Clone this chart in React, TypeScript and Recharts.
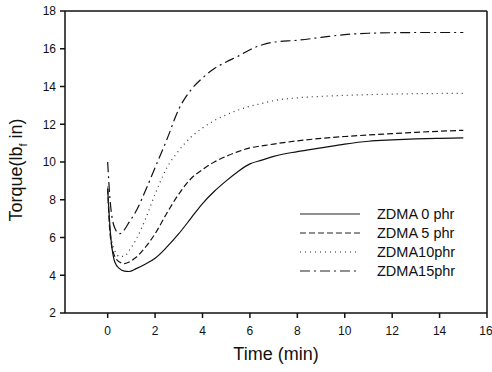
import React from 'react';
import { LineChart, Line, XAxis, YAxis, ReferenceLine } from 'recharts';

const times = [0, 0.1, 0.3, 0.5, 0.7, 0.9, 1.2, 1.6, 2, 2.5, 3, 3.5, 4, 4.5, 5, 5.5, 6, 6.5, 7, 8, 9, 10, 11, 12, 13, 14, 15];
const zdma0 = [8.6, 6.5, 4.7, 4.35, 4.22, 4.2, 4.35, 4.6, 4.9, 5.5, 6.2, 7.0, 7.8, 8.45, 9.0, 9.5, 9.9, 10.1, 10.3, 10.55, 10.75, 10.95, 11.1, 11.17, 11.22, 11.25, 11.28];
const zdma5 = [8.6, 6.2, 5.0, 4.7, 4.62, 4.7, 4.95, 5.5, 6.2, 7.3, 8.3, 9.1, 9.6, 10.0, 10.3, 10.55, 10.75, 10.85, 10.95, 11.12, 11.25, 11.35, 11.43, 11.5, 11.57, 11.63, 11.68];
const zdma10 = [8.7, 6.5, 5.3, 5.0, 5.0, 5.3, 5.9, 7.0, 8.3, 9.7, 10.6, 11.3, 11.8, 12.2, 12.5, 12.75, 12.95, 13.1, 13.25, 13.4, 13.48, 13.53, 13.57, 13.6, 13.62, 13.63, 13.64];
const zdma15 = [10.0, 8.0, 6.5, 6.2, 6.4, 6.8, 7.4, 8.5, 9.7, 11.2, 12.8, 13.8, 14.45, 14.95, 15.3, 15.6, 15.95, 16.2, 16.35, 16.45, 16.6, 16.75, 16.82, 16.85, 16.86, 16.86, 16.86];

const xTicks = [0, 2, 4, 6, 8, 10, 12, 14, 16];
const yTicks = [2, 4, 6, 8, 10, 12, 14, 16, 18];

const seriesNames = ['ZDMA 0 phr', 'ZDMA 5 phr', 'ZDMA10phr', 'ZDMA15phr'];
const dashes = ['', '6 3', '1 4', '10 4 2 4'];

const data = times.map((t, i) => ({ t, s0: zdma0[i], s5: zdma5[i], s10: zdma10[i], s15: zdma15[i] }));

const font = '"Liberation Sans", Arial, sans-serif';

// legend drawn as an overlay so it doesn't eat plot height
const LegendBox = () => (
  <svg width={190} height={80} style={{ position: 'absolute', left: 295, top: 205 }}>
    {seriesNames.map((name, i) => (
      <g key={name} transform={`translate(0, ${i * 19 + 9})`}>
        <line x1={5} x2={65} y1={0} y2={0} stroke="#222" strokeWidth={1.2} strokeDasharray={dashes[i]} />
        <text x={82} y={5} fontSize={14.5} fontFamily={font} fill="#111">{name}</text>
      </g>
    ))}
  </svg>
);

const YLabel = () => (
  <text x={22} y={170} transform="rotate(-90, 22, 170)" textAnchor="middle" fontSize={18} fontFamily={font} fill="#111">
    Torque(lb<tspan fontSize={11} dy={5}>f</tspan><tspan dy={-5}> in)</tspan>
  </text>
);

export default function App() {
  return (
    <div style={{ position: 'absolute', left: 0, top: 0, width: 492, height: 372, background: '#fff' }}>
      <LineChart width={492} height={372} data={data} margin={{ top: 11, right: 5, left: 0, bottom: 0 }}>
        <XAxis
          type="number"
          dataKey="t"
          domain={[-1.8, 16]}
          ticks={xTicks}
          allowDataOverflow
          height={59}
          stroke="#111"
          strokeWidth={1.5}
          tickSize={5}
          tickMargin={8}
          tick={{ fontSize: 12, fontFamily: font, fill: '#111' }}
          label={{ value: 'Time (min)', position: 'insideBottom', offset: 12, fontSize: 18, fontFamily: font, fill: '#111' }}
        />
        <YAxis
          type="number"
          domain={[2, 18]}
          ticks={yTicks}
          allowDataOverflow
          width={65}
          stroke="#111"
          strokeWidth={1.5}
          tickSize={5}
          tickMargin={4}
          tick={{ fontSize: 12, fontFamily: font, fill: '#111' }}
          label={<YLabel />}
        />
        <ReferenceLine y={18} stroke="#111" strokeWidth={1.5} />
        <ReferenceLine x={16} stroke="#111" strokeWidth={1.5} />
        <Line type="monotone" dataKey="s0" stroke="#111" strokeWidth={1.2} dot={false} isAnimationActive={false} />
        <Line type="monotone" dataKey="s5" stroke="#111" strokeWidth={1.2} strokeDasharray={dashes[1]} dot={false} isAnimationActive={false} />
        <Line type="monotone" dataKey="s10" stroke="#333" strokeWidth={1.2} strokeDasharray={dashes[2]} dot={false} isAnimationActive={false} />
        <Line type="monotone" dataKey="s15" stroke="#111" strokeWidth={1.2} strokeDasharray={dashes[3]} dot={false} isAnimationActive={false} />
      </LineChart>
      <LegendBox />
    </div>
  );
}
